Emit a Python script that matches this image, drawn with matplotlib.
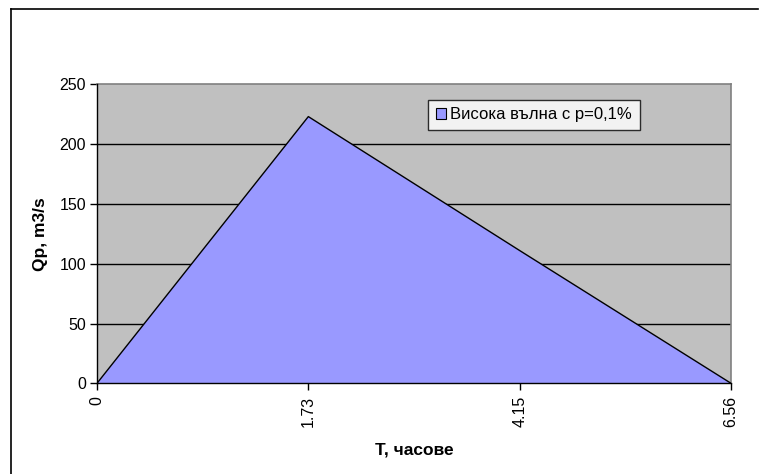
import matplotlib
matplotlib.use("Agg")
import matplotlib.pyplot as plt
from matplotlib.lines import Line2D
from matplotlib.patches import Patch

categories = ["0", "1.73", "4.15", "6.56"]
discharge = [0, 223, 111, 0]
series_label = "Висока вълна с р=0,1%"
y_ticks = [0, 50, 100, 150, 200, 250]

plt.rcParams['font.family'] = ['Liberation Sans', 'DejaVu Sans']

W, H = 766, 474
fig = plt.figure(figsize=(W / 100, H / 100), dpi=100)
fig.patch.set_facecolor('white')

ax = fig.add_axes([97 / W, 1 - 383.3 / H, (731 - 97) / W, (383.3 - 84.3) / H])
ax.set_facecolor('#C0C0C0')

x = list(range(len(categories)))
ax.fill_between(x, discharge, 0, facecolor='#9999FF', edgecolor='none', zorder=3)
ax.plot(x, discharge, color='black', lw=1.0, zorder=4)

ax.set_xlim(0, len(categories) - 1)
ax.set_ylim(0, 250)
ax.set_yticks(y_ticks)
ax.set_xticks(x)
ax.set_xticklabels(categories, rotation=90, fontsize=11.5)
ax.tick_params(axis='y', labelsize=11.5, length=5, width=1, direction='out', pad=3)
ax.tick_params(axis='x', length=5, width=1, direction='out', pad=4)

for v in y_ticks[1:-1]:
    ax.axhline(v, color='black', lw=1.0, zorder=2)

for s in ['top', 'right']:
    ax.spines[s].set_color('#808080')
    ax.spines[s].set_linewidth(1.2)
for s in ['left', 'bottom']:
    ax.spines[s].set_color('black')
    ax.spines[s].set_linewidth(1.0)
    ax.spines[s].set_zorder(5)

ax.set_ylabel("Qp, m3/s", fontsize=12.5, fontweight='bold', labelpad=8)
ax.set_xlabel("T, часове", fontsize=12.5, fontweight='bold', labelpad=11)

leg = ax.legend(handles=[Patch(facecolor='#9999FF', edgecolor='black', lw=0.8, label=series_label)],
                loc='upper left', bbox_to_anchor=((428 - 97) / (731 - 97), (383.3 - 100) / (383.3 - 84.3)),
                fontsize=12, frameon=True, fancybox=False, borderpad=0.45,
                handlelength=0.6, handleheight=0.6, handletextpad=0.3, borderaxespad=0)
leg.get_frame().set_edgecolor('black')
leg.get_frame().set_linewidth(1.0)
leg.get_frame().set_facecolor('white')
leg.set_zorder(10)

# outer chart-area frame (left and top edges visible)
fig.add_artist(Line2D([10.5 / W, 10.5 / W], [0, 1 - 9 / H], color='black', lw=1.2, transform=fig.transFigure))
fig.add_artist(Line2D([10.5 / W, 758 / W], [1 - 9 / H, 1 - 9 / H], color='black', lw=1.2, transform=fig.transFigure))

fig.savefig("out.png", dpi=100)
